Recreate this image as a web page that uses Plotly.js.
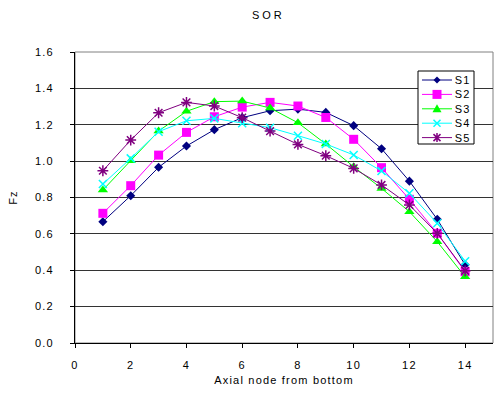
<!DOCTYPE html>
<html>
<head>
<meta charset="utf-8">
<script src="https://cdn.plot.ly/plotly-3.0.1.min.js"></script>
<style>
html,body{margin:0;padding:0;background:#fff;}
#chart{width:497px;height:394px;}
#chart svg text{letter-spacing:1.2px;}
#chart svg .gtitle{letter-spacing:3px;}
</style>
</head>
<body>
<div id="chart"></div>
<script>
const nodes = [1,2,3,4,5,6,7,8,9,10,11,12,13,14];
const seriesNames = ["S1","S2","S3","S4","S5"];
const s1 = [0.667,0.81,0.966,1.083,1.173,1.239,1.277,1.286,1.268,1.195,1.068,0.89,0.68,0.43];
const s2 = [0.713,0.865,1.033,1.158,1.244,1.297,1.323,1.303,1.24,1.12,0.964,0.79,0.603,0.392];
const s3 = [0.841,1.002,1.165,1.274,1.327,1.33,1.292,1.211,1.094,0.969,0.85,0.722,0.557,0.364];
const s4 = [0.874,1.015,1.162,1.222,1.235,1.208,1.184,1.14,1.094,1.034,0.946,0.823,0.658,0.45];
const s5 = [0.947,1.116,1.266,1.323,1.303,1.239,1.165,1.092,1.03,0.96,0.869,0.759,0.603,0.397];
const yTicks = [0,0.2,0.4,0.6,0.8,1.0,1.2,1.4,1.6];
const xTicks = [0,2,4,6,8,10,12,14];

const values = [s1,s2,s3,s4,s5];
const colors = ["#000080","#FF00FF","#00FF00","#00FFFF","#800080"];
const symbols = ["diamond","square","triangle-up","x-thin-open","asterisk-open"];
const sizes = [7,9,9,8,9];

const traces = values.map((v,i)=>({
  x: nodes, y: v, name: seriesNames[i], type: "scatter", mode: "lines+markers",
  showlegend: false,
  line: {color: colors[i], width: 1},
  marker: {symbol: symbols[i], size: sizes[i], color: colors[i], line: {color: colors[i], width: (i>=3?1.5:0)}}
}));

// plot area in pixels (for the hand-built legend box)
const W = 497, H = 394, M = {l: 75, r: 4, t: 52, b: 51};
const pw = W - M.l - M.r, ph = H - M.t - M.b;
const fx = x => (x - M.l) / pw;
const fy = y => (H - M.b - y) / ph;
const P = pts => pts.map((p,k)=>(k? "L":"M") + fx(p[0]).toFixed(5) + "," + fy(p[1]).toFixed(5)).join(" ");

const shapes = [
  {type: "rect", xref: "paper", yref: "paper", x0: 0, x1: 1, y0: 0, y1: 1, line: {color: "#808080", width: 1}, layer: "below"},
  {type: "rect", xref: "paper", yref: "paper", x0: fx(418), x1: fx(474), y0: fy(144), y1: fy(71), line: {color: "#000", width: 1}, fillcolor: "#fff", layer: "above"}
];
const annotations = [];
const legY0 = 80, legDy = 14.4, lx0 = 422, lx1 = 452, mx = 437;
seriesNames.forEach((nm,i)=>{
  const cy = legY0 + i*legDy;
  const c = colors[i];
  shapes.push({type: "path", xref: "paper", yref: "paper", path: P([[lx0,cy],[lx1,cy]]), line: {color: c, width: 1}, layer: "above"});
  let mk;
  if (i === 0) { const h = 3.5; mk = {path: P([[mx,cy-h],[mx+h,cy],[mx,cy+h],[mx-h,cy]]) + " Z", fill: c, lw: 0}; }
  else if (i === 1) { const h = 4.5; mk = {path: P([[mx-h,cy-h],[mx+h,cy-h],[mx+h,cy+h],[mx-h,cy+h]]) + " Z", fill: c, lw: 0}; }
  else if (i === 2) { const h = 4.5; mk = {path: P([[mx,cy-h],[mx+h,cy+h*0.75],[mx-h,cy+h*0.75]]) + " Z", fill: c, lw: 0}; }
  else if (i === 3) { const h = 3.5; mk = {path: P([[mx-h,cy-h],[mx+h,cy+h]]) + " " + P([[mx-h,cy+h],[mx+h,cy-h]]), fill: null, lw: 1.5}; }
  else { const h = 3.5; mk = {path: P([[mx-h,cy-h],[mx+h,cy+h]]) + " " + P([[mx-h,cy+h],[mx+h,cy-h]]) + " " + P([[mx,cy-4.5],[mx,cy+4.5]]), fill: null, lw: 1.5}; }
  const sh = {type: "path", xref: "paper", yref: "paper", path: mk.path, line: {color: c, width: mk.lw}, layer: "above"};
  if (mk.fill) sh.fillcolor = mk.fill;
  shapes.push(sh);
  annotations.push({xref: "paper", yref: "paper", x: fx(454), y: fy(cy), xanchor: "left", yanchor: "middle", text: nm, showarrow: false, font: {size: 11, color: "#000"}});
});

const font = {family: "Liberation Sans, Arial, sans-serif", size: 11, color: "#000"};
const layout = {
  width: W, height: H,
  margin: M,
  paper_bgcolor: "#fff", plot_bgcolor: "#fff",
  font: font,
  showlegend: false,
  title: {text: "SOR", x: 0.54, xanchor: "center", y: 0.961, yanchor: "middle", font: {family: font.family, size: 11, color: "#000"}},
  xaxis: {
    range: [0, 15], tickvals: xTicks, ticktext: xTicks.map(String),
    ticks: "outside", ticklen: 4, tickcolor: "#000", ticklabelstandoff: 8,
    showgrid: false, zeroline: false,
    showline: true, linecolor: "#000", linewidth: 1,
    title: {text: "Axial node from bottom", font: {size: 11}, standoff: 6},
    tickfont: {size: 11}
  },
  yaxis: {
    range: [0, 1.6], tickvals: yTicks, tickformat: ".1f",
    ticks: "outside", ticklen: 4, tickcolor: "#000", ticklabelstandoff: 14,
    showgrid: true, gridcolor: "#333", gridwidth: 1, zeroline: false,
    showline: true, linecolor: "#000", linewidth: 1,
    title: {text: "Fz", font: {size: 11}, standoff: 18},
    tickfont: {size: 11}
  },
  shapes: shapes,
  annotations: annotations
};
Plotly.newPlot("chart", traces, layout, {displayModeBar: false, staticPlot: true});
</script>
</body>
</html>
